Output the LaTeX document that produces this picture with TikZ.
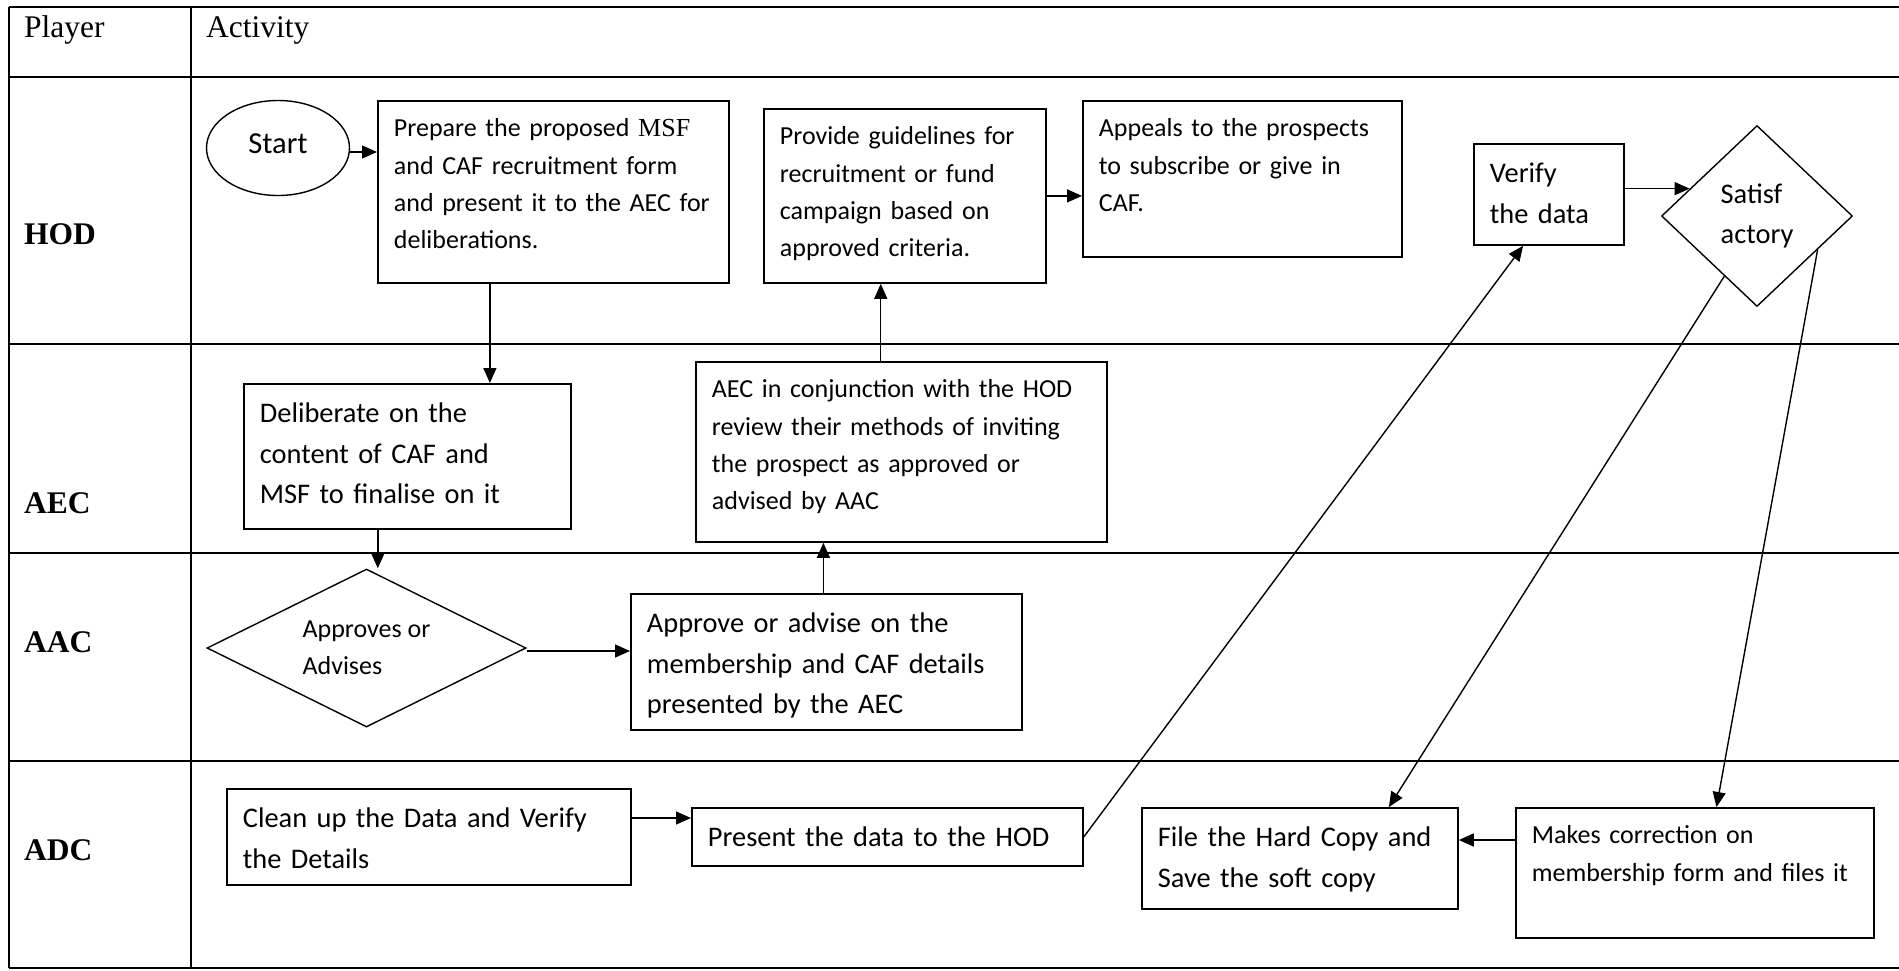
\documentclass[tikz,border=0pt]{standalone}
\usepackage{fontspec}
\setmainfont{Carlito}
\newfontfamily\timesfont{Liberation Serif}
\usetikzlibrary{shapes.geometric,arrows.meta,calc,positioning}

\newcommand\fsmall{\fontsize{26}{37.3}\selectfont}
\newcommand\flarge{\fontsize{28.4}{40.5}\selectfont}

\begin{document}
\begin{tikzpicture}[x=1pt, y=-1pt,
    tbl/.style={line width=2pt},
    hdr/.style={inner sep=0pt, font=\timesfont\fontsize{31.5}{36}\selectfont},
    box/.style={draw, line width=1.8pt, anchor=north west, align=left, inner xsep=16pt, inner ysep=12pt},
    small/.style={font=\fsmall, text height=24pt},
    large/.style={font=\flarge, text height=27pt},
    decision/.style={draw, diamond, line width=1.4pt, inner sep=0pt, align=left},
    arr/.style={-{Triangle[length=15pt,width=13pt]}, line width=1.4pt}]
  \useasboundingbox (0,0) rectangle (1899,970);

  % swimlane table
  \foreach \y in {7,77,344,553,761,968}
    \draw[tbl] (9,\y) -- (1899,\y);
  \draw[tbl] (9,7) -- (9,968) (191,7) -- (191,968);
  \node[hdr, anchor=base west] (player) at (24,37) {Player};
  \node[hdr, anchor=base west] (activity) at (206,37) {Activity};
  \foreach \lane/\y in {HOD/234, AEC/503, AAC/642, ADC/850}
    \node[hdr, font=\timesfont\bfseries\fontsize{31.5}{36}\selectfont, anchor=west] (lane\lane) at (24,\y) {\lane};

  % HOD
  \node[draw, ellipse, line width=1.4pt, minimum width=143pt, minimum height=95pt, inner sep=0pt,
        text depth=8pt, font=\fontsize{30.5}{36}\selectfont] (start) at (278,148) {Start};
  \node[box, small, text width=319pt, text depth=134pt] (prep) at (377,100)
    {Prepare the proposed {\timesfont MSF}\\and CAF recruitment form\\and present it to the AEC for\\deliberations.};
  \node[box, small, text width=250pt, text depth=126pt] (guide) at (763,108)
    {Provide guidelines for\\recruitment or fund\\campaign based on\\approved criteria.};
  \node[box, small, text width=287pt, text depth=108pt] (appeal) at (1082,100)
    {Appeals to the prospects\\to subscribe or give in\\CAF.};
  \node[box, large, text width=118pt, text depth=50pt] (verify) at (1473,143) {Verify\\the data};
  \node[decision, aspect=1, minimum width=191pt, minimum height=181pt, font=\flarge] (sat) at (1757,216) {Satisf\\actory};

  % AEC
  \node[box, large, text width=295pt, text depth=94pt] (delib) at (243,383)
    {Deliberate on the\\content of CAF and\\MSF to finalise on it};
  \node[box, small, text width=379pt, text depth=132pt] (review) at (695,361)
    {AEC in conjunction with the HOD\\review their methods of inviting\\the prospect as approved or\\advised by AAC};

  % AAC
  \node[decision, aspect=2, minimum width=319pt, minimum height=158pt, font=\fsmall] (approves) at (366.5,648) {Approves or\\Advises};
  \node[box, large, text width=359pt, text depth=85pt] (advise) at (630,593)
    {Approve or advise on the\\membership and CAF details\\presented by the AEC};

  % ADC
  \node[box, large, text width=372pt, text depth=45pt] (clean) at (226,788)
    {Clean up the Data and Verify\\the Details};
  \node[box, font=\flarge, text height=27pt, text width=359pt, text depth=7pt] (present) at (691,807)
    {Present the data to the HOD};
  \node[box, large, text width=284pt, text depth=50pt] (file) at (1141,807)
    {File the Hard Copy and\\Save the soft copy};
  \node[box, small, text width=326pt, text depth=82pt] (makes) at (1515,807)
    {Makes correction on\\membership form and files it};

  % flow
  \draw[arr] ([yshift=-4pt]start.east) coordinate (s1) -- (s1 -| prep.west);
  \draw[arr] ($(prep.south west)!0.32!(prep.south east)$) coordinate (s2) -- (s2 |- delib.north);
  \draw[arr] ($(delib.south west)!0.41!(delib.south east)$) coordinate (s3) -- (s3 |- approves.north);
  \draw[arr] ([yshift=-3pt]approves.east) coordinate (s4) -- (s4 -| advise.west);
  \draw[arr] ([xshift=-3pt]advise.north) coordinate (s5) -- (s5 |- review.south);
  \draw[arr] ($(review.north west)!0.45!(review.north east)$) coordinate (s6) -- (s6 |- guide.south);
  \draw[arr] (guide.east) -- (guide.east -| appeal.west);
  \draw[arr] ([yshift=-30pt]clean.north east) coordinate (s7) -- (s7 -| present.west);
  \draw[arr] (present.east) -- ($(verify.south west)!0.33!(verify.south east)$);
  \coordinate (s8) at ($(sat.west)!0.3!(sat.north)$);
  \draw[arr] (s8 -| verify.east) -- (s8);
  \draw[arr] ($(sat.south)!0.34!(sat.west)$) -- ($(file.north west)!0.78!(file.north east)$);
  \draw[arr] ($(sat.south)!0.63!(sat.east)$) -- ($(makes.north west)!0.56!(makes.north east)$);
  \draw[arr] ([yshift=-33pt]makes.north west) coordinate (s9) -- (s9 -| file.east);
\end{tikzpicture}
\end{document}
